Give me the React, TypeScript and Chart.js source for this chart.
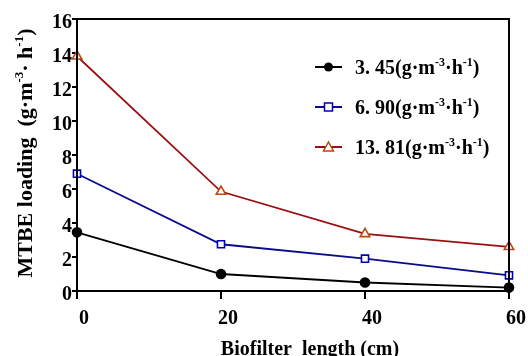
import React, { useEffect, useRef } from "react";
import { Chart, registerables } from "chart.js";

Chart.register(...registerables);

const lengths = [0, 20, 40, 60];
const load345 = [3.45, 1.0, 0.5, 0.2];
const load690 = [6.9, 2.75, 1.9, 0.92];
const load1381 = [13.81, 5.85, 3.36, 2.6];
const seriesNames = ["3. 45", "6. 90", "13. 81"];
const yTicks = [0, 2, 4, 6, 8, 10, 12, 14, 16];
const xTicks = [0, 20, 40, 60];

const FONT = "'Liberation Serif', 'Times New Roman', serif";

type Part = { t: string; sup?: boolean };

function richWidth(ctx: CanvasRenderingContext2D, parts: Part[], size: number) {
  let w = 0;
  for (const p of parts) {
    ctx.font = `bold ${p.sup ? Math.round(size * 0.6) : size}px ${FONT}`;
    w += ctx.measureText(p.t).width;
  }
  return w;
}

function drawRich(ctx: CanvasRenderingContext2D, parts: Part[], x: number, y: number, size: number) {
  let cx = x;
  ctx.textBaseline = "alphabetic";
  ctx.textAlign = "left";
  for (const p of parts) {
    ctx.font = `bold ${p.sup ? Math.round(size * 0.6) : size}px ${FONT}`;
    ctx.fillText(p.t, cx, p.sup ? y - size * 0.42 : y);
    cx += ctx.measureText(p.t).width;
  }
}

const unitParts = (prefix: string, gap = ""): Part[] => [
  { t: prefix + "(g·m" },
  { t: "-3", sup: true },
  { t: "·" + gap + "h" },
  { t: "-1", sup: true },
  { t: ")" },
];

const styles = [
  { line: "#000000", border: "#000000", fill: "#000000", point: "circle", radius: 4.5 },
  { line: "#0a0a8c", border: "#0000b0", fill: "#ffffff", point: "rect", radius: 5 },
  { line: "#9a1010", border: "#b84a10", fill: "#ffffff", point: "triangle", radius: 5.5 },
];

const decorPlugin = {
  id: "decor",
  afterDatasetsDraw(chart: any) {
    const ctx: CanvasRenderingContext2D = chart.ctx;
    const a = chart.chartArea;
    ctx.save();
    // box
    ctx.strokeStyle = "#000";
    ctx.lineWidth = 2;
    ctx.strokeRect(a.left, a.top, a.right - a.left, a.bottom - a.top);
    ctx.fillStyle = "#000";
    // y title
    const yParts: Part[] = [{ t: "MTBE loading  " }, ...unitParts("", " ")];
    const tsize = 22;
    const w = richWidth(ctx, yParts, tsize);
    ctx.save();
    ctx.translate(32, 153);
    ctx.rotate(-Math.PI / 2);
    drawRich(ctx, yParts, -w / 2, 0, tsize);
    ctx.restore();
    // x title
    const size = 20;
    ctx.font = `bold ${size}px ${FONT}`;
    ctx.textAlign = "center";
    ctx.textBaseline = "alphabetic";
    ctx.fillText("Biofilter  length (cm)", 310, 355);
    // legend
    const rows = [67, 107, 147];
    rows.forEach((ry, i) => {
      const st = styles[i];
      ctx.strokeStyle = st.line;
      ctx.lineWidth = 2;
      ctx.beginPath();
      ctx.moveTo(315, ry);
      ctx.lineTo(342, ry);
      ctx.stroke();
      const mx = 328.5;
      ctx.lineWidth = 1.5;
      ctx.strokeStyle = st.border;
      ctx.fillStyle = st.fill;
      if (st.point === "circle") {
        ctx.beginPath();
        ctx.arc(mx, ry, 4.5, 0, Math.PI * 2);
        ctx.fill();
      } else if (st.point === "rect") {
        ctx.fillRect(mx - 4, ry - 4, 8, 8);
        ctx.strokeRect(mx - 4, ry - 4, 8, 8);
      } else {
        ctx.beginPath();
        ctx.moveTo(mx, ry - 5);
        ctx.lineTo(mx + 5, ry + 4);
        ctx.lineTo(mx - 5, ry + 4);
        ctx.closePath();
        ctx.fill();
        ctx.stroke();
      }
      ctx.fillStyle = "#000";
      drawRich(ctx, unitParts(seriesNames[i]), 355, ry + 7, 20);
    });
    ctx.restore();
  },
};

export default function App() {
  const ref = useRef<HTMLCanvasElement | null>(null);
  useEffect(() => {
    if (!ref.current) return;
    const all = [load345, load690, load1381];
    const chart = new Chart(ref.current, {
      type: "line",
      data: {
        datasets: all.map((vals, i) => ({
          label: seriesNames[i],
          data: vals.map((v, j) => ({ x: lengths[j], y: v })),
          borderColor: styles[i].line,
          borderWidth: 1.8,
          pointStyle: styles[i].point as any,
          pointRadius: styles[i].radius,
          pointBorderColor: styles[i].border,
          pointBackgroundColor: styles[i].fill,
          pointBorderWidth: 1.6,
          tension: 0,
          clip: false as any,
        })),
      },
      options: {
        animation: false,
        responsive: false,
        events: [],
        layout: { padding: { top: 19, right: 19, left: 0, bottom: 0 } },
        plugins: { legend: { display: false }, tooltip: { enabled: false } },
        scales: {
          x: {
            type: "linear",
            min: 0,
            max: 60,
            afterBuildTicks: (s: any) => {
              s.ticks = xTicks.map((v) => ({ value: v }));
            },
            afterFit: (s: any) => {
              s.height = 65;
            },
            border: { display: false },
            grid: { drawOnChartArea: false, color: "#000", lineWidth: 2, tickLength: 8 },
            ticks: {
              color: "#000",
              font: { family: FONT, size: 20, weight: "bold" },
              padding: 8,
              labelOffset: 7,
              maxRotation: 0,
            },
          },
          y: {
            type: "linear",
            min: 0,
            max: 16,
            afterBuildTicks: (s: any) => {
              s.ticks = yTicks.map((v) => ({ value: v }));
            },
            afterFit: (s: any) => {
              s.width = 77;
            },
            border: { display: false },
            grid: { drawOnChartArea: false, color: "#000", lineWidth: 2, tickLength: 5 },
            ticks: {
              color: "#000",
              font: { family: FONT, size: 20, weight: "bold" },
              padding: 0,
              labelOffset: 4,
            },
          },
        },
      },
      plugins: [decorPlugin],
    });
    return () => chart.destroy();
  }, []);
  return (
    <div style={{ position: "fixed", left: 0, top: 0, width: 528, height: 356, background: "#fff" }}>
      <canvas ref={ref} width={528} height={356} style={{ display: "block", width: 528, height: 356 }} />
    </div>
  );
}
